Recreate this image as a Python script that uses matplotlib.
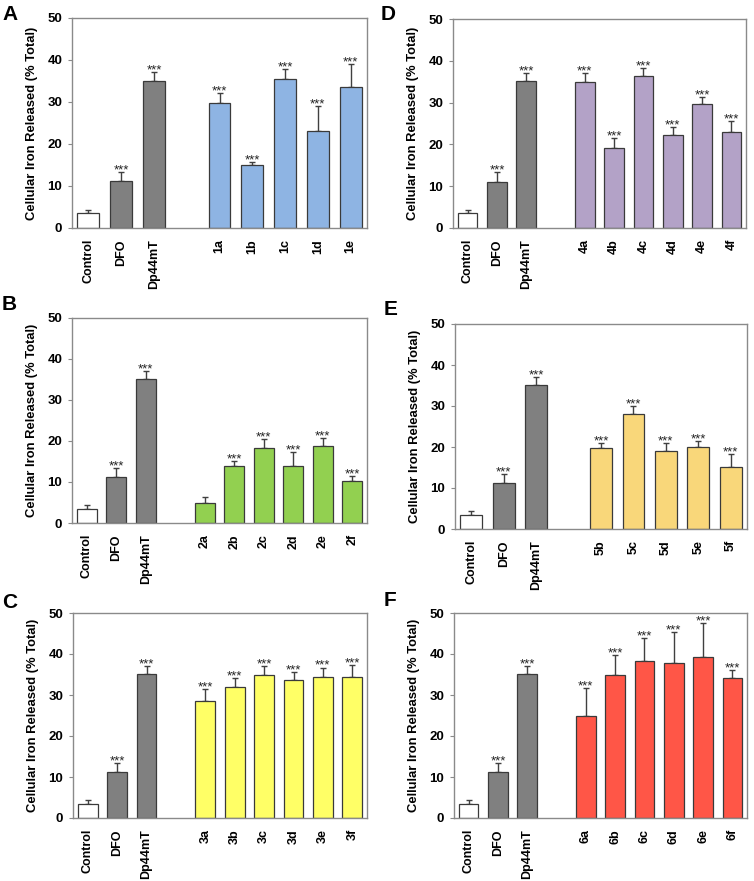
import matplotlib
matplotlib.use("Agg")
import matplotlib.pyplot as plt

plt.rcParams['font.family'] = ['Liberation Sans', 'DejaVu Sans']

# ---- data ----
ctrl_labels = ['Control', 'DFO', 'Dp44mT']
ctrl_vals = [3.5, 11.1, 35.1]
ctrl_err = [0.8, 2.2, 2.0]
ctrl_sig = ['', '***', '***']

A_labels = ['1a', '1b', '1c', '1d', '1e']
A_vals = [29.8, 14.9, 35.5, 23.2, 33.6]
A_err = [2.4, 0.9, 2.3, 5.9, 5.5]
A_sig = ['***'] * 5

B_labels = ['2a', '2b', '2c', '2d', '2e', '2f']
B_vals = [5.0, 13.9, 18.4, 13.9, 18.9, 10.2]
B_err = [1.3, 1.3, 2.0, 3.3, 1.8, 1.2]
B_sig = ['', '***', '***', '***', '***', '***']

C_labels = ['3a', '3b', '3c', '3d', '3e', '3f']
C_vals = [28.6, 31.9, 34.9, 33.6, 34.5, 34.5]
C_err = [2.8, 2.3, 2.2, 2.0, 2.2, 2.8]
C_sig = ['***'] * 6

D_labels = ['4a', '4b', '4c', '4d', '4e', '4f']
D_vals = [34.9, 19.1, 36.3, 22.3, 29.7, 23.0]
D_err = [2.2, 2.4, 1.9, 1.9, 1.6, 2.7]
D_sig = ['***'] * 6

E_labels = ['5b', '5c', '5d', '5e', '5f']
E_vals = [19.8, 28.0, 19.1, 20.0, 15.1]
E_err = [1.1, 2.0, 1.8, 1.5, 3.1]
E_sig = ['***'] * 5

F_labels = ['6a', '6b', '6c', '6d', '6e', '6f']
F_vals = [24.9, 34.9, 38.2, 37.8, 39.3, 34.1]
F_err = [6.8, 4.8, 5.6, 7.5, 8.2, 1.9]
F_sig = ['***'] * 6

yticks = [0, 10, 20, 30, 40, 50]
ylabel = 'Cellular Iron Released (% Total)'

W, H = 754, 881
fig = plt.figure(figsize=(W / 100, H / 100), dpi=100)

panels = [
    ('A', A_labels, A_vals, A_err, A_sig, '#8EB4E3', (72, 18, 367, 228), (2, 14)),
    ('B', B_labels, B_vals, B_err, B_sig, '#92D050', (72, 318, 367, 523), (2, 305)),
    ('C', C_labels, C_vals, C_err, C_sig, '#FFFF66', (73, 613, 367, 818), (2, 602)),
    ('D', D_labels, D_vals, D_err, D_sig, '#B3A2C7', (453, 19, 746, 228), (381, 14)),
    ('E', E_labels, E_vals, E_err, E_sig, '#F9D77A', (455, 324, 747, 529), (384, 310)),
    ('F', F_labels, F_vals, F_err, F_sig, '#FF5647', (454, 613, 747, 818), (384, 601)),
]

gray_spine = '#8a8a8a'
edge = '#3a3a3a'

for letter, labels, vals, err, sig, color, (l, t, r, b), (lx, ly) in panels:
    ax = fig.add_axes([l / W, 1 - b / H, (r - l) / W, (b - t) / H])
    xs_ctrl = [0, 1, 2]
    xs_cmp = [4 + i for i in range(len(labels))]
    xs = xs_ctrl + xs_cmp
    allv = ctrl_vals + vals
    alle = ctrl_err + err
    alls = ctrl_sig + sig
    cols = ['white', '#808080', '#808080'] + [color] * len(labels)
    ax.bar(xs, allv, width=0.67, color=cols, edgecolor=edge, linewidth=0.9, zorder=2)
    ax.errorbar(xs, allv, yerr=[[0] * len(allv), alle], fmt='none', ecolor='#404040',
                elinewidth=1.0, capsize=2.2, capthick=1.0, zorder=1)
    for x, v, e, s in zip(xs, allv, alle, alls):
        if s:
            ax.annotate(s, (x, v + e), xytext=(0, -1.0), textcoords='offset points',
                        ha='center', va='baseline', fontsize=9.5, color='#222222')
    ax.set_xlim(-0.5, xs[-1] + 0.5)
    ax.set_ylim(0, 50)
    ax.set_yticks(yticks)
    ax.set_yticklabels([str(v) for v in yticks], fontsize=9.5, fontweight='bold')
    ax.set_xticks(xs)
    ax.set_xticklabels(ctrl_labels + labels, rotation=90, fontsize=9, fontweight='bold')
    ax.tick_params(axis='x', length=0, pad=8)
    ax.tick_params(axis='y', length=3, width=0.8, color=gray_spine, pad=4)
    for sp in ax.spines.values():
        sp.set_color(gray_spine)
        sp.set_linewidth(1.0)
    ax.set_ylabel(ylabel, fontsize=9.4, fontweight='bold', labelpad=7)
    fig.text(lx / W, 1 - ly / H, letter, fontsize=15, fontweight='bold', va='center', ha='left')

fig.savefig('out.png', dpi=100)
